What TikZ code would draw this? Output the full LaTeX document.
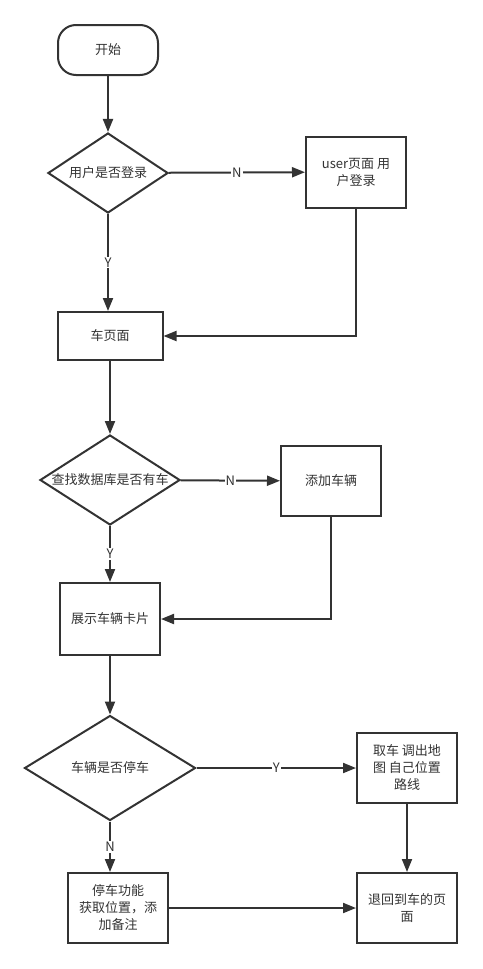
\documentclass[tikz,border=0pt]{standalone}
\usepackage{fontspec}
\setmainfont{Noto Sans CJK SC}
\usetikzlibrary{positioning,shapes.geometric,arrows.meta}
\definecolor{linegray}{HTML}{333333}
\definecolor{textgray}{HTML}{333333}

\begin{document}
\begin{tikzpicture}[x=1pt, y=-1pt,
    stepbox/.style={draw=linegray, line width=2pt, fill=white, minimum width=100pt,
      minimum height=70pt, align=center, text=textgray, inner sep=2pt,
      font=\fontsize{13}{17}\selectfont},
    decision/.style={diamond, draw=linegray, line width=2pt, fill=white, inner sep=0pt,
      align=center, text=textgray, font=\fontsize{13}{15}\selectfont},
    lbl/.style={fill=white, inner sep=1pt, text=textgray, font=\fontsize{13}{15}\selectfont},
    arrow/.style={-{Triangle[length=13pt, width=10pt]}, line width=2pt, draw=linegray}
  ]
    \useasboundingbox (0,0) rectangle (482,969);
    \node[stepbox, rounded corners=18pt, minimum height=50pt] (start) at (108,50) {开始};
    \node[decision, aspect=1.5, minimum width=120pt, minimum height=80pt] (login) at (108,173) {用户是否登录};
    \node[stepbox, minimum height=71pt] (user) at (356,172) {user页面 用\\户登录};
    \node[stepbox, minimum width=105pt, minimum height=48pt] (carpage) at (110,336) {车页面};
    \node[decision, aspect=1.56, minimum width=140pt, minimum height=90pt] (query) at (110,480) {查找数据库是否有车};
    \node[stepbox] (addcar) at (331,481) {添加车辆};
    \node[stepbox, minimum height=72pt] (cards) at (110,619) {展示车辆卡片};
    \node[decision, aspect=1.63, minimum width=171pt, minimum height=105pt] (parked) at (110,768) {车辆是否停车};
    \node[stepbox] (fetch) at (407,768) {取车 调出地\\图 自己位置\\路线};
    \node[stepbox] (park) at (118,908) {停车功能\\获取位置，添\\加备注};
    \node[stepbox] (back) at (407,908) {退回到车的页\\面};
    \draw[arrow] (start) -- (login);
    \draw[arrow] (login) -- node[lbl] {N} (user);
    \draw[arrow] (login.south) -- node[lbl] {Y} (login.south |- carpage.north);
    \draw[arrow] (user.south) |- (carpage.east);
    \draw[arrow] (carpage) -- (query);
    \draw[arrow] (query) -- node[lbl] {N} (addcar);
    \draw[arrow] (query) -- node[lbl] {Y} (cards);
    \draw[arrow] (addcar.south) |- (cards.east);
    \draw[arrow] (cards) -- (parked);
    \draw[arrow] (parked) -- node[lbl] {Y} (fetch);
    \draw[arrow] (parked.south) -- node[lbl] {N} (parked.south |- park.north);
    \draw[arrow] (fetch) -- (back);
    \draw[arrow] (park) -- (back);
  \end{tikzpicture}
\end{document}
